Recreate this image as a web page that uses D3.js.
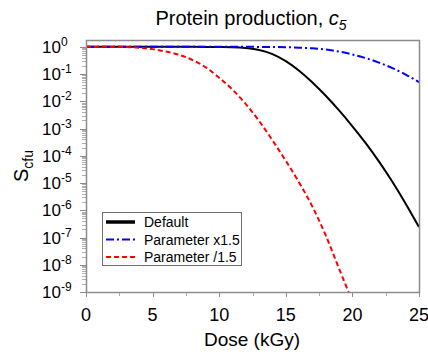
<!DOCTYPE html>
<html>
<head>
<meta charset="utf-8">
<script src="https://cdn.jsdelivr.net/npm/d3@7"></script>
<style>
  html, body { margin: 0; padding: 0; background: #fff; }
  svg { display: block; font-family: "Liberation Sans", Arial, sans-serif; }
</style>
</head>
<body>
<svg id="chart" width="428" height="356"></svg>
<script>
// Dose grid (kGy) and surviving fraction S_cfu for each parameter setting
const dose = [0, 1, 2, 3, 4, 5, 6, 7, 8, 9, 10, 11, 12, 13, 14, 15, 16, 17, 18, 19, 20, 21, 22, 23, 24, 25];
const sDefault = [1, 1, 1, 1, 1, 1, 1, 1, 0.997, 0.992, 0.982, 0.965, 0.9, 0.766, 0.542, 0.298, 0.133, 0.0494,
  0.016, 4.61e-3, 1.21e-3, 2.91e-4, 6.08e-5, 1.11e-5, 1.75e-6, 2.42e-7];
const sTimes = [1, 1, 1, 1, 1, 1, 1, 1, 1, 1, 1, 1, 1, 0.993, 0.982, 0.966, 0.933, 0.881, 0.794, 0.668, 0.525,
  0.385, 0.263, 0.166, 0.0955, 0.0501];
const sDivided = [1, 1, 0.998, 0.989, 0.923, 0.822, 0.668, 0.507, 0.327, 0.176, 0.0733, 0.0266, 7.85e-3,
  1.88e-3, 3.67e-4, 6.53e-5, 1.04e-5, 1.36e-6, 1.19e-7, 7.16e-9, 4.47e-10];

const seriesNames = ["Default", "Parameter x1.5", "Parameter /1.5"];
const xTicks = [0, 5, 10, 15, 20, 25];
const yTickExponents = [0, -1, -2, -3, -4, -5, -6, -7, -8, -9];

const series = [
  { name: seriesNames[0], values: sDefault, color: "#000000", width: 2, dash: null, legendWidth: 3.5 },
  { name: seriesNames[1], values: sTimes, color: "#0000ff", width: 2, dash: "8,3,2,3", legendWidth: 2 },
  { name: seriesNames[2], values: sDivided, color: "#ff0000", width: 2, dash: "5,3", legendWidth: 2 }
];

const svg = d3.select("#chart");
const m = { left: 86, right: 419, top: 40, bottom: 292 };
const axisColor = "#8c8c8c";

const x = d3.scaleLinear().domain([0, 25]).range([m.left, m.right]);
const y = d3.scaleLog().domain([1e-9, Math.pow(10, 0.25)]).range([m.bottom, m.top]);

// clip region for curves
svg.append("defs").append("clipPath").attr("id", "plotClip")
  .append("rect").attr("x", m.left).attr("y", m.top)
  .attr("width", m.right - m.left).attr("height", m.bottom - m.top);

// y minor ticks (2..9 x 10^k), pointing outward
const yMinor = [];
for (let k = -9; k < 0; k++) for (let j = 2; j <= 9; j++) yMinor.push(j * Math.pow(10, k));
svg.append("g").selectAll("line").data(yMinor).join("line")
  .attr("x1", m.left - 4).attr("x2", m.left)
  .attr("y1", d => Math.round(y(d)) + 0.5).attr("y2", d => Math.round(y(d)) + 0.5)
  .attr("stroke", "#b0b0b0").attr("stroke-width", 1);

// y major ticks and labels
const yMajor = yTickExponents.map(e => Math.pow(10, e));
svg.append("g").selectAll("line").data(yMajor).join("line")
  .attr("x1", m.left - 6).attr("x2", m.left)
  .attr("y1", d => Math.round(y(d)) + 0.5).attr("y2", d => Math.round(y(d)) + 0.5)
  .attr("stroke", axisColor).attr("stroke-width", 1);

const yLab = svg.append("g").selectAll("text").data(yTickExponents).join("text")
  .attr("x", 42).attr("y", e => y(Math.pow(10, e)) + 6)
  .attr("font-size", 17).attr("fill", "#000");
yLab.append("tspan").text("10");
yLab.append("tspan").attr("dy", -7).attr("font-size", 12).text(e => e === 0 ? "0" : "-" + Math.abs(e));

// x ticks (major every 5, minor at 2.5 offsets), pointing outward
const xMinor = d3.range(2.5, 25, 5);
svg.append("g").selectAll("line").data(xMinor).join("line")
  .attr("x1", d => Math.round(x(d)) + 0.5).attr("x2", d => Math.round(x(d)) + 0.5)
  .attr("y1", m.bottom).attr("y2", m.bottom + 4)
  .attr("stroke", "#b0b0b0").attr("stroke-width", 1);
svg.append("g").selectAll("line").data(xTicks).join("line")
  .attr("x1", d => Math.round(x(d)) + 0.5).attr("x2", d => Math.round(x(d)) + 0.5)
  .attr("y1", m.bottom).attr("y2", m.bottom + 5)
  .attr("stroke", axisColor).attr("stroke-width", 1);
svg.append("g").selectAll("text").data(xTicks).join("text")
  .attr("x", d => x(d)).attr("y", 321)
  .attr("text-anchor", "middle").attr("font-size", 18).attr("fill", "#000")
  .text(d => d);

// curves
const line = d3.line()
  .x((d, i) => x(dose[i]))
  .y(d => y(d))
  .curve(d3.curveMonotoneX);

const curves = svg.append("g").attr("clip-path", "url(#plotClip)");
series.forEach(s => {
  curves.append("path")
    .attr("d", line(s.values))
    .attr("fill", "none")
    .attr("stroke", s.color)
    .attr("stroke-width", s.width)
    .attr("stroke-dasharray", s.dash);
});

// frame
svg.append("rect")
  .attr("x", m.left + 0.5).attr("y", m.top + 0.5)
  .attr("width", m.right - m.left).attr("height", m.bottom - m.top)
  .attr("fill", "none").attr("stroke", axisColor).attr("stroke-width", 1.5);

// legend
const lg = svg.append("g");
lg.append("rect").attr("x", 102.5).attr("y", 212.5).attr("width", 139).attr("height", 53)
  .attr("fill", "#fff").attr("stroke", "#707070").attr("stroke-width", 1);
series.forEach((s, i) => {
  const yy = 222 + i * 17.5;
  lg.append("line").attr("x1", 106).attr("x2", 135).attr("y1", yy).attr("y2", yy)
    .attr("stroke", s.color).attr("stroke-width", s.legendWidth)
    .attr("stroke-dasharray", s.dash);
  lg.append("text").attr("x", 144).attr("y", yy + 5)
    .attr("font-size", 14).attr("fill", "#000").text(s.name);
});

// title
const title = svg.append("text").attr("x", 251).attr("y", 25)
  .attr("text-anchor", "middle").attr("font-size", 20).attr("fill", "#000");
title.append("tspan").text("Protein production, ");
title.append("tspan").attr("font-style", "italic").text("c");
title.append("tspan").attr("font-style", "italic").attr("font-size", 14).attr("dy", 5).text("5");

// axis labels
svg.append("text").attr("x", 252).attr("y", 346)
  .attr("text-anchor", "middle").attr("font-size", 19).attr("fill", "#000")
  .text("Dose (kGy)");

const yTitle = svg.append("text")
  .attr("transform", "translate(28,166) rotate(-90)")
  .attr("text-anchor", "middle").attr("font-size", 20).attr("fill", "#000");
yTitle.append("tspan").text("S");
yTitle.append("tspan").attr("font-size", 14).attr("dy", 5).text("cfu");
</script>
</body>
</html>
